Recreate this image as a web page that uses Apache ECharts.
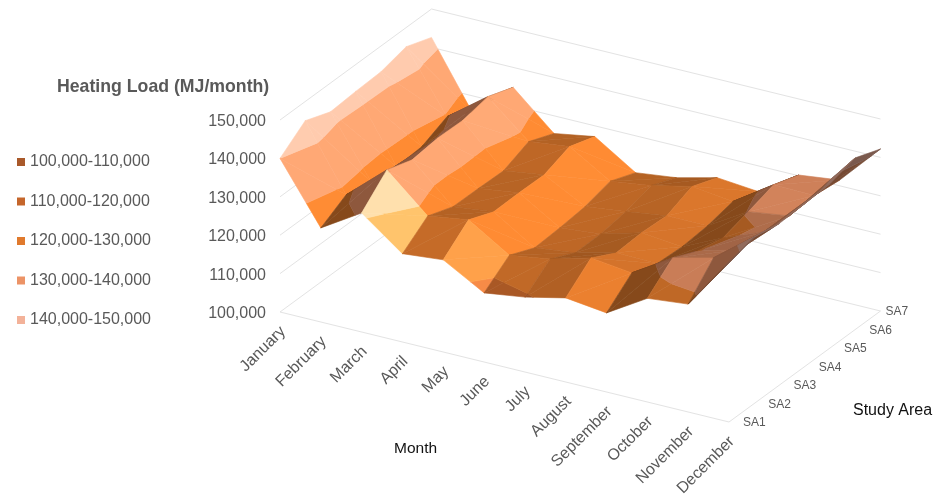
<!DOCTYPE html>
<html>
<head>
<meta charset="utf-8">
<title>Heating Load by Month and Study Area</title>
<script src="https://cdn.jsdelivr.net/npm/echarts@6/dist/echarts.min.js"></script>
<style>
  html, body { margin: 0; padding: 0; background: #fff; }
  #chart { width: 937px; height: 495px; }
</style>
</head>
<body>
<div id="chart"></div>
<script>
// Categories and ticks
const months = ['January', 'February', 'March', 'April', 'May', 'June', 'July',
  'August', 'September', 'October', 'November', 'December'];
const studyAreas = ['SA1', 'SA2', 'SA3', 'SA4', 'SA5', 'SA6', 'SA7'];
const loadTicks = [100000, 110000, 120000, 130000, 140000, 150000];

// Heating load per study area, SA1 to SA7, one list per month (MJ/month)
const january   = [140000, 145000, 142500, 143000, 143300, 145000, 142600];
const february  = [124500, 128300, 126800, 126000, 126400, 129400, 125700];
const march     = [131000, 137400, 135200, 136000, 135800, 137200, 134800];
const april     = [123000, 128000, 125600, 125500, 125300, 128100, 125400];
const may       = [124000, 129600, 126900, 127000, 126900, 129400, 127200];
const june      = [118000, 123000, 120100, 120500, 121200, 123000, 120400];
const july      = [119500, 124600, 121400, 121500, 122500, 124500, 121700];
const august    = [121900, 127500, 124000, 124400, 124000, 126800, 124300];
const september = [120600, 126200, 123800, 123400, 124000, 125500, 123300];
const october   = [127000, 132700, 129700, 128300, 130300, 132500, 130200];
const november  = [128100, 135300, 132600, 132500, 131800, 132300, 131500];
const december  = [141700, 143300, 142100, 142400, 142800, 144700, 142200];
const loads = [january, february, march, april, may, june, july,
  august, september, october, november, december];

// Colour bands of the surface
const bandNames = ['100,000-110,000', '110,000-120,000', '120,000-130,000',
  '130,000-140,000', '140,000-150,000'];
const bandColors = ['#A9592A', '#C5662B', '#E07A2D', '#EC9366', '#F3B299'];

// Oblique projection: one month step, one study-area step, one unit of load
const MONTH_STEP = [449 / 11, 110 / 11];
const AREA_STEP = [151.5 / 6, -18.5];
const LOAD_SCALE = 38.4 / 10000;
const LOAD_BASE = loadTicks[0];

function project(m, a, load) {
  return [
    m * MONTH_STEP[0] + a * AREA_STEP[0],
    m * MONTH_STEP[1] + a * AREA_STEP[1] - (load - LOAD_BASE) * LOAD_SCALE
  ];
}

// Cuts a polygon of [month, area, load] vertices down to one load range
function clipToRange(poly, lo, hi) {
  const cut = (pts, inside, limit) => {
    const out = [];
    pts.forEach((p, k) => {
      const q = pts[(k + 1) % pts.length];
      const pIn = inside(p[2]), qIn = inside(q[2]);
      if (pIn) out.push(p);
      if (pIn !== qIn) {
        const t = (limit - p[2]) / (q[2] - p[2]);
        out.push([p[0] + (q[0] - p[0]) * t, p[1] + (q[1] - p[1]) * t, limit]);
      }
    });
    return out;
  };
  return cut(cut(poly, z => z >= lo, lo), z => z <= hi, hi);
}

// Lights a band colour from a cell's slope along the two ground axes
function shade(base, slopeMonth, slopeArea, backFacing) {
  const rgb = echarts.color.parse(base);
  if (backFacing) {
    return 'rgb(' + [rgb[0] * 0.5, rgb[1] * 0.5, rgb[2] * 0.5].map(Math.round).join(',') + ')';
  }
  const k = Math.max(0.6, Math.min(1.14, 0.92 - 0.065 * slopeMonth / 1000 + 0.008 * slopeArea / 1000));
  const nx = -slopeMonth / 8000, ny = -slopeArea / 8000;
  const len = Math.hypot(nx, ny, 1);
  const highlight = Math.pow(Math.max(0, (0.67 * nx - 0.43 * ny + 0.61) / len), 80);
  const lit = rgb.slice(0, 3).map(c => Math.min(255, Math.round(c * k + 45 * highlight)));
  return 'rgb(' + lit.join(',') + ')';
}

// Facets ordered far to near so nearer folds cover the ones behind them
const facets = [];
function addTriangle(tri, slopeMonth, slopeArea) {
  const [p, q, r] = tri;
  const a = project(p[0], p[1], p[2]), b = project(q[0], q[1], q[2]), c = project(r[0], r[1], r[2]);
  const area = (b[0] - a[0]) * (c[1] - a[1]) - (b[1] - a[1]) * (c[0] - a[0]);
  // Both triangle windings below come out negative when seen from above
  const backFacing = area > 0;
  bandColors.forEach((base, k) => {
    const piece = clipToRange(tri, loadTicks[k], loadTicks[k + 1]);
    if (piece.length >= 3) {
      facets.push({ pts: piece, color: shade(base, slopeMonth, slopeArea, backFacing) });
    }
  });
}
for (let m = 0; m < months.length - 1; m++) {
  for (let a = studyAreas.length - 2; a >= 0; a--) {
    const nearLow = [m, a, loads[m][a]];
    const farLow = [m, a + 1, loads[m][a + 1]];
    const farHigh = [m + 1, a + 1, loads[m + 1][a + 1]];
    const nearHigh = [m + 1, a, loads[m + 1][a]];
    // One slope per cell keeps the two triangles of a cell the same tone
    const slopeMonth = (nearHigh[2] - nearLow[2] + farHigh[2] - farLow[2]) / 2;
    const slopeArea = (farLow[2] - nearLow[2] + farHigh[2] - nearHigh[2]) / 2;
    addTriangle([nearLow, farHigh, farLow], slopeMonth, slopeArea);
    addTriangle([nearLow, nearHigh, farHigh], slopeMonth, slopeArea);
  }
}

// Wall and floor rules, as [from, to] pairs of [month, area, load]
const lastM = months.length - 1, lastA = studyAreas.length - 1;
const rules = [];
loadTicks.forEach(t => {
  rules.push([[0, 0, t], [0, lastA, t]]);
  rules.push([[0, lastA, t], [lastM, lastA, t]]);
});
rules.push([[0, 0, LOAD_BASE], [lastM, 0, LOAD_BASE]]);
rules.push([[lastM, 0, LOAD_BASE], [lastM, lastA, LOAD_BASE]]);

const FONT = '"Liberation Sans", Arial, sans-serif';
const TEXT_COLOR = '#595959';

const toPoint = (api, p) => api.coord(project(p[0], p[1], p[2]));

const option = {
  animation: false,
  backgroundColor: '#fff',
  grid: { left: 0, right: 0, top: 0, bottom: 0 },
  xAxis: { type: 'value', min: -280, max: 657, show: false },
  yAxis: { type: 'value', min: -312, max: 183, inverse: true, show: false },
  legend: {
    data: bandNames,
    orient: 'vertical',
    left: 17,
    top: 154,
    padding: 0,
    itemWidth: 8,
    itemHeight: 8,
    itemGap: 23.5,
    icon: 'rect',
    selectedMode: false,
    textStyle: { fontFamily: FONT, fontSize: 16, color: TEXT_COLOR }
  },
  graphic: [
    { type: 'text', left: 57, top: 78, silent: true,
      style: { text: 'Heating Load (MJ/month)', font: 'bold 17.7px ' + FONT, fill: TEXT_COLOR } },
    { type: 'text', left: 394, top: 441, silent: true,
      style: { text: 'Month', font: '15.5px ' + FONT, fill: '#111' } },
    { type: 'text', left: 853, top: 403, silent: true,
      style: { text: 'Study Area', font: '16px ' + FONT, fill: '#111' } }
  ],
  series: [
    {
      type: 'custom', name: 'rules', coordinateSystem: 'cartesian2d', silent: true, z: 1,
      data: rules.map((_, k) => [k]),
      encode: { x: 0, y: 0 },
      renderItem(params, api) {
        const [p, q] = rules[api.value(0)];
        const a = toPoint(api, p), b = toPoint(api, q);
        return { type: 'line', shape: { x1: a[0], y1: a[1], x2: b[0], y2: b[1] },
          style: { stroke: '#E3E3E3', lineWidth: 1 } };
      }
    },
    {
      type: 'custom', name: 'surface', coordinateSystem: 'cartesian2d', silent: true, z: 2,
      data: facets.map((_, k) => [k]),
      encode: { x: 0, y: 0 },
      renderItem(params, api) {
        const f = facets[api.value(0)];
        return { type: 'polygon', shape: { points: f.pts.map(p => toPoint(api, p)) },
          style: { fill: f.color, stroke: f.color, lineWidth: 0.6 } };
      }
    },
    {
      type: 'custom', name: 'load labels', coordinateSystem: 'cartesian2d', silent: true, z: 3,
      data: loadTicks.map((_, k) => [k]),
      encode: { x: 0, y: 0 },
      renderItem(params, api) {
        const t = loadTicks[api.value(0)];
        const p = toPoint(api, [0, 0, t]);
        return { type: 'text', x: p[0] - 14, y: p[1] + 1.5, style: {
          text: echarts.format.addCommas(t), font: '16px ' + FONT, fill: TEXT_COLOR,
          align: 'right', verticalAlign: 'middle' } };
      }
    },
    {
      type: 'custom', name: 'month labels', coordinateSystem: 'cartesian2d', silent: true, z: 3,
      data: months.map((_, k) => [k]),
      encode: { x: 0, y: 0 },
      renderItem(params, api) {
        const m = api.value(0);
        const p = toPoint(api, [m, 0, LOAD_BASE]);
        return { type: 'text', x: p[0] + 3, y: p[1] + 17, rotation: Math.PI / 4, style: {
          text: months[m], font: '16px ' + FONT, fill: TEXT_COLOR,
          align: 'right', verticalAlign: 'middle' } };
      }
    },
    {
      type: 'custom', name: 'area labels', coordinateSystem: 'cartesian2d', silent: true, z: 3,
      data: studyAreas.map((_, k) => [k]),
      encode: { x: 0, y: 0 },
      renderItem(params, api) {
        const a = api.value(0);
        const p = toPoint(api, [lastM, a, LOAD_BASE]);
        return { type: 'text', x: p[0] + (a === lastA ? 5 : 14), y: p[1] + 1, style: {
          text: studyAreas[a], font: '12px ' + FONT, fill: TEXT_COLOR,
          align: 'left', verticalAlign: 'middle' } };
      }
    }
  ].concat(bandNames.map((name, k) => ({
    // Carries the legend entry for each colour band
    type: 'custom', name, data: [], itemStyle: { color: bandColors[k] },
    renderItem() { return null; }
  })))
};

echarts.init(document.getElementById('chart'), null, { renderer: 'canvas' }).setOption(option);
</script>
</body>
</html>
